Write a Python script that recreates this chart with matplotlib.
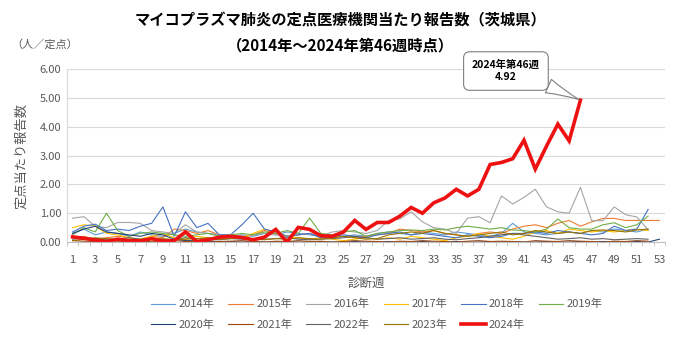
import matplotlib.pyplot as plt
from matplotlib.ticker import FormatStrFormatter

plt.rcParams['font.family'] = ['Noto Sans CJK JP', 'DejaVu Sans']

# weekly reports per sentinel site, Ibaraki
weeks = list(range(1, 54))
v2014 = [0.30, 0.45, 0.25, 0.35, 0.30, 0.20, 0.35, 0.25, 0.20, 0.30, 0.45, 0.35, 0.30, 0.25, 0.20, 0.25,
         0.20, 0.30, 0.25, 0.35, 0.30, 0.25, 0.20, 0.15, 0.20, 0.25, 0.20, 0.30, 0.35, 0.30, 0.25, 0.35,
         0.30, 0.25, 0.35, 0.30, 0.25, 0.20, 0.30, 0.65, 0.35, 0.30, 0.25, 0.30, 0.35, 0.30, 0.40, 0.35,
         0.45, 0.40, 0.35, 0.45]
v2015 = [0.15, 0.20, 0.10, 0.15, 0.20, 0.15, 0.10, 0.20, 0.15, 0.45, 0.40, 0.30, 0.40, 0.25, 0.20, 0.15,
         0.25, 0.40, 0.30, 0.20, 0.25, 0.30, 0.20, 0.15, 0.20, 0.15, 0.20, 0.25, 0.30, 0.45, 0.40, 0.35,
         0.40, 0.30, 0.25, 0.20, 0.30, 0.35, 0.30, 0.45, 0.55, 0.60, 0.50, 0.65, 0.75, 0.55, 0.70, 0.82,
         0.82, 0.75, 0.75, 0.75, 0.75]
v2016 = [0.83, 0.88, 0.55, 0.50, 0.68, 0.68, 0.65, 0.40, 0.35, 0.30, 0.60, 0.35, 0.30, 0.25, 0.25, 0.20,
         0.25, 0.30, 0.25, 0.20, 0.25, 0.30, 0.20, 0.35, 0.40, 0.35, 0.30, 0.40, 0.75, 0.80, 1.05, 0.70,
         0.50, 0.45, 0.30, 0.83, 0.88, 0.67, 1.60, 1.32, 1.55, 1.83, 1.22, 1.05, 1.00, 1.90, 0.74, 0.74,
         1.22, 0.95, 0.87, 0.42]
v2017 = [0.50, 0.60, 0.55, 0.30, 0.25, 0.15, 0.10, 0.20, 0.30, 0.15, 0.10, 0.20, 0.15, 0.10, 0.20, 0.15,
         0.30, 0.45, 0.35, 0.20, 0.15, 0.10, 0.15, 0.10, 0.05, 0.10, 0.15, 0.10, 0.15, 0.10, 0.20, 0.15,
         0.10, 0.05, 0.15, 0.20, 0.30, 0.20, 0.15, 0.10, 0.20, 0.35, 0.40, 0.30, 0.45, 0.40, 0.35, 0.40,
         0.35, 0.40, 0.45, 0.40]
v2018 = [0.35, 0.55, 0.62, 0.40, 0.45, 0.40, 0.55, 0.65, 1.22, 0.20, 1.05, 0.50, 0.65, 0.25, 0.25, 0.60,
         1.00, 0.45, 0.35, 0.20, 0.25, 0.30, 0.15, 0.20, 0.25, 0.20, 0.15, 0.25, 0.30, 0.35, 0.25, 0.30,
         0.25, 0.20, 0.15, 0.25, 0.20, 0.15, 0.20, 0.30, 0.30, 0.35, 0.30, 0.40, 0.35, 0.30, 0.25, 0.30,
         0.55, 0.40, 0.45, 1.13]
v2019 = [0.25, 0.50, 0.35, 1.00, 0.40, 0.20, 0.30, 0.35, 0.30, 0.25, 0.20, 0.25, 0.30, 0.20, 0.25, 0.30,
         0.25, 0.35, 0.30, 0.40, 0.30, 0.83, 0.30, 0.25, 0.35, 0.40, 0.20, 0.30, 0.35, 0.40, 0.42, 0.40,
         0.45, 0.42, 0.50, 0.55, 0.50, 0.45, 0.50, 0.42, 0.40, 0.35, 0.45, 0.80, 0.50, 0.45, 0.45, 0.60,
         0.67, 0.50, 0.60, 0.90]
v2020 = [0.30, 0.45, 0.55, 0.35, 0.30, 0.25, 0.20, 0.30, 0.25, 0.10, 0.05, 0.05, 0.03, 0.02, 0.02, 0.00,
         0.02, 0.00, 0.00, 0.02, 0.00, 0.00, 0.02, 0.00, 0.00, 0.02, 0.00, 0.00, 0.02, 0.00, 0.00, 0.02,
         0.00, 0.00, 0.02, 0.00, 0.00, 0.02, 0.00, 0.02, 0.00, 0.00, 0.02, 0.00, 0.00, 0.02, 0.00, 0.02,
         0.00, 0.00, 0.02, 0.00, 0.10]
v2021 = [0.05, 0.03, 0.02, 0.05, 0.03, 0.02, 0.00, 0.03, 0.02, 0.05, 0.02, 0.03, 0.00, 0.02, 0.03, 0.05,
         0.02, 0.00, 0.03, 0.02, 0.05, 0.02, 0.03, 0.00, 0.02, 0.05, 0.03, 0.02, 0.00, 0.03, 0.02, 0.05,
         0.03, 0.02, 0.00, 0.03, 0.05, 0.02, 0.03, 0.02, 0.00, 0.05, 0.03, 0.02, 0.05, 0.03, 0.02, 0.00,
         0.03, 0.02, 0.05, 0.03]
v2022 = [0.10, 0.15, 0.12, 0.08, 0.10, 0.15, 0.10, 0.12, 0.08, 0.10, 0.15, 0.12, 0.10, 0.08, 0.12, 0.10,
         0.08, 0.10, 0.12, 0.15, 0.10, 0.08, 0.10, 0.12, 0.15, 0.20, 0.15, 0.10, 0.12, 0.15, 0.10, 0.12,
         0.15, 0.10, 0.08, 0.12, 0.15, 0.20, 0.25, 0.30, 0.25, 0.20, 0.15, 0.10, 0.12, 0.15, 0.10, 0.12,
         0.08, 0.10, 0.12, 0.10]
v2023 = [0.05, 0.10, 0.15, 0.12, 0.10, 0.08, 0.05, 0.10, 0.12, 0.08, 0.10, 0.12, 0.15, 0.10, 0.12, 0.15,
         0.10, 0.08, 0.12, 0.10, 0.15, 0.12, 0.10, 0.15, 0.20, 0.15, 0.10, 0.12, 0.25, 0.30, 0.35, 0.30,
         0.40, 0.30, 0.25, 0.20, 0.25, 0.30, 0.35, 0.25, 0.30, 0.40, 0.35, 0.30, 0.35, 0.30, 0.40, 0.42,
         0.40, 0.35, 0.42, 0.45]
v2024 = [0.18, 0.13, 0.07, 0.02, 0.10, 0.05, 0.04, 0.12, 0.03, 0.05, 0.35, 0.02, 0.08, 0.17, 0.20, 0.16,
         0.08, 0.17, 0.44, 0.00, 0.51, 0.44, 0.22, 0.20, 0.35, 0.75, 0.44, 0.68, 0.68, 0.90, 1.20, 1.00,
         1.36, 1.53, 1.83, 1.60, 1.83, 2.69, 2.76, 2.89, 3.53, 2.53, 3.33, 4.09, 3.51, 4.92]

years = ['2014年', '2015年', '2016年', '2017年', '2018年', '2019年',
         '2020年', '2021年', '2022年', '2023年']
series = [v2014, v2015, v2016, v2017, v2018, v2019, v2020, v2021, v2022, v2023]
colors = ['#5B9BD5', '#ED7D31', '#A5A5A5', '#FFC000', '#4472C4', '#70AD47',
          '#264478', '#9E480E', '#636363', '#997300']

fig = plt.figure(figsize=(6.8, 3.4), dpi=100)
ax = fig.add_axes([0.0985, 0.288, 0.8795, 0.509])

handles = []
for name, vals, c in zip(years, series, colors):
    h, = ax.plot(weeks[:len(vals)], vals, color=c, lw=0.8, label=name)
    handles.append(h)
h24, = ax.plot(weeks[:len(v2024)], v2024, color='#EE1111', lw=2.6, label='2024年',
               solid_joinstyle='miter')
handles.append(h24)

ax.set_xlim(0.5, 53.5)
ax.set_ylim(0, 6)
ax.set_yticks([0, 1, 2, 3, 4, 5, 6])
ax.yaxis.set_major_formatter(FormatStrFormatter('%.2f'))
ax.set_xticks(weeks[::2])
ax.set_xticks([w + 0.5 for w in range(0, 54)], minor=True)
ax.tick_params(axis='x', which='major', length=0, pad=9, labelsize=8, labelcolor='#595959')
ax.tick_params(axis='x', which='minor', length=3, color='#BFBFBF')
ax.tick_params(axis='y', length=0, pad=4, labelsize=8, labelcolor='#595959')
ax.grid(axis='y', color='#D9D9D9', lw=0.8)
ax.set_axisbelow(True)
for s in ['top', 'right']:
    ax.spines[s].set_visible(False)
ax.spines['left'].set_color('#D9D9D9')
ax.spines['bottom'].set_color('#BFBFBF')

ax.set_ylabel('定点当たり報告数', fontsize=9.5, color='#595959', labelpad=8)
ax.set_xlabel('診断週', fontsize=9, color='#595959', labelpad=9)

fig.text(0.5, 0.94, 'マイコプラズマ肺炎の定点医療機関当たり報告数（茨城県）',
         ha='center', va='center', fontsize=11, fontweight='bold')
fig.text(0.5, 0.866, '（2014年～2024年第46週時点）',
         ha='center', va='center', fontsize=11, fontweight='bold')
fig.text(0.065, 0.868, '（人／定点）', ha='center', va='center', fontsize=8, color='#595959')

ax.annotate('2024年第46週\n4.92', xy=(46, v2024[45]), xytext=(39.4, 5.93),
            textcoords='data', ha='center', va='center', fontsize=7.5, fontweight='bold',
            annotation_clip=False,
            bbox=dict(boxstyle='round,pad=0.8,rounding_size=0.6', fc='white', ec='#7F7F7F', lw=0.8),
            arrowprops=dict(arrowstyle='wedge,tail_width=1.4,shrink_factor=0.4', fc='white',
                            ec='#7F7F7F', lw=0.8, relpos=(0.88, 0.15), shrinkA=0, shrinkB=1))

order = [0, 6, 1, 7, 2, 8, 3, 9, 4, 10, 5]
leg = fig.legend([handles[i] for i in order], [handles[i].get_label() for i in order],
                 ncol=6, loc='center', bbox_to_anchor=(0.554, 0.075), frameon=False,
                 fontsize=8, handlelength=2.2, handletextpad=0.3, columnspacing=1.25,
                 labelspacing=0.9)
for t in leg.get_texts():
    t.set_color('#595959')

fig.savefig('out.png', dpi=100)
